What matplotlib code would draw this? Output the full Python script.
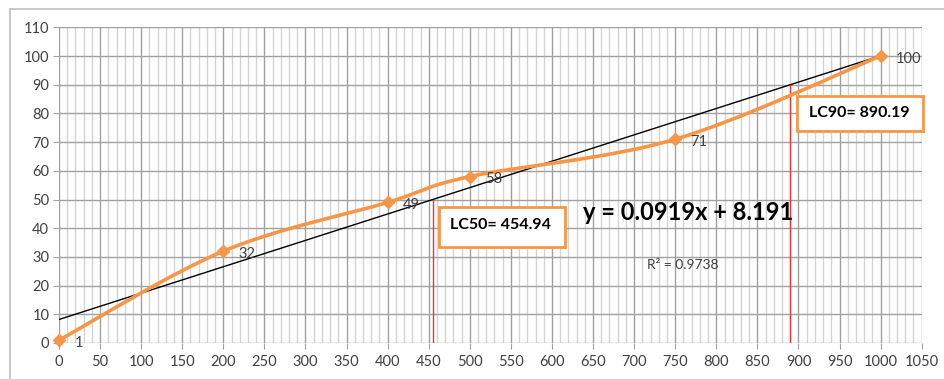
import matplotlib
matplotlib.use("Agg")
import matplotlib.pyplot as plt
from matplotlib.path import Path
from matplotlib.patches import PathPatch, Rectangle
from matplotlib.lines import Line2D
import numpy as np

plt.rcParams['font.family'] = ['Lato', 'DejaVu Sans']

# Data
conc = [0, 200, 400, 500, 750, 1000]
mortality = [1, 32, 49, 58, 71, 100]
slope, intercept = 0.0919, 8.191
r2 = 0.9738
lc50 = 454.94
lc90 = 890.19
xticks = list(range(0, 1051, 50))
yticks = list(range(0, 111, 10))

ORANGE = '#F79646'
TXT = '#404040'

fig = plt.figure(figsize=(9.45, 3.79), dpi=100)
W, H = 945, 379
# outer chart frame
fig.add_artist(Line2D([10 / W, 10 / W], [0, 1 - 9 / H], transform=fig.transFigure, color='#c0c0c0', lw=1.2))
fig.add_artist(Line2D([10 / W, 1], [1 - 9 / H, 1 - 9 / H], transform=fig.transFigure, color='#c0c0c0', lw=1.2))

left, right, top, bottom = 59 / W, 921.7 / W, 27.3 / H, 343 / H
ax = fig.add_axes([left, 1 - bottom, right - left, bottom - top])
ax.set_xlim(0, 1050)
ax.set_ylim(0, 110)
for s in ax.spines.values():
    s.set_visible(False)

# grid
for xv in range(0, 1051, 10):
    major = xv % 50 == 0
    ax.axvline(xv, color='#a0a0a0' if major else '#d4d4d4', lw=1.0, zorder=0)
for yv in yticks:
    ax.axhline(yv, color='#a0a0a0', lw=1.0, zorder=0)

ax.set_xticks(xticks)
ax.set_yticks(yticks)
ax.tick_params(axis='both', length=4, color='#a0a0a0', labelsize=10.5, labelcolor=TXT, pad=3)
ax.tick_params(axis='x', pad=5)

# smoothed orange line (Excel-style Catmull-Rom bezier)
P = np.column_stack([conc, mortality]).astype(float)
n = len(P)
verts = [tuple(P[0])]
codes = [Path.MOVETO]
for i in range(n - 1):
    p0 = P[i - 1] if i > 0 else P[i]
    p1 = P[i]
    p2 = P[i + 1]
    p3 = P[i + 2] if i + 2 < n else P[i + 1]
    c1 = p1 + (p2 - p0) / 6.0
    c2 = p2 - (p3 - p1) / 6.0
    verts += [tuple(c1), tuple(c2), tuple(p2)]
    codes += [Path.CURVE4] * 3
ax.add_patch(PathPatch(Path(verts, codes), facecolor='none', edgecolor=ORANGE, lw=2.6, zorder=3, capstyle='round', joinstyle='round'))
ax.plot(conc, mortality, linestyle='none', marker='D', markersize=6.5, color=ORANGE, zorder=4, clip_on=False)

for xv, yv in zip(conc, mortality):
    ax.annotate(str(yv), (xv, yv), xytext=(11, -2), textcoords='offset points', ha='left', va='center',
                fontsize=10.5, color=TXT, zorder=5)

# trendline
tx = np.array([0, 1000])
ax.plot(tx, slope * tx + intercept, color='black', lw=1.0, zorder=2)

# LC lines
ax.plot([lc50, lc50], [0, slope * lc50 + intercept], color='#EE3333', lw=1.0, zorder=2)
ax.plot([lc90, lc90], [0, slope * lc90 + intercept], color='#EE3333', lw=1.0, zorder=2)

# boxes
ax.add_patch(Rectangle((462.5, 33.4), 153.4, 13.9, facecolor='white', edgecolor=ORANGE, lw=2.0, zorder=6, clip_on=False))
ax.text(537.5, 41.0, 'LC50= %.2f' % lc50, ha='center', va='center', fontsize=11.5, fontweight='bold', color='black', zorder=7)
ax.add_patch(Rectangle((898.2, 73.8), 153.4, 12.4, facecolor='white', edgecolor=ORANGE, lw=2.0, zorder=6, clip_on=False))
ax.text(973.6, 80.0, 'LC90= %.2f' % lc90, ha='center', va='center', fontsize=11.5, fontweight='bold', color='black', zorder=7, clip_on=False)

ax.text(765.6, 45.3, 'y = %.4fx + %.3f' % (slope, intercept), ha='center', va='center', fontsize=17, fontweight='bold', color='black', zorder=7)
ax.text(759.5, 27.2, 'R² = %.4f' % r2, ha='center', va='center', fontsize=10, color=TXT, zorder=7)

fig.savefig('out.png', dpi=100)
